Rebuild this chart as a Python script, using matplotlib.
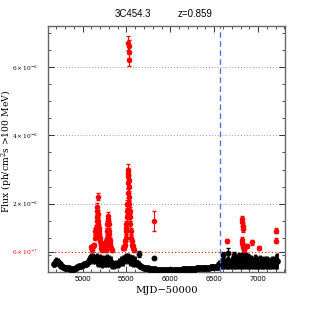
import matplotlib
matplotlib.use("Agg")
import matplotlib.pyplot as plt
import numpy as np

# ---------------- data (flux in units of 1e-7 ph/cm^2/s) ----------------
# quiescent / below-threshold band (black)
mjd_b = [4680, 4700, 4720, 4740, 4760, 4780, 4800, 4820, 4840, 4860, 4880, 4900,
         4920, 4940, 4960, 4980, 5000, 5020, 5040, 5060, 5080, 5100, 5120, 5140,
         5160, 5180, 5200, 5220, 5240, 5260, 5280, 5300, 5320, 5340, 5360, 5380,
         5400, 5420, 5440, 5460, 5480, 5500, 5520, 5540, 5560, 5580, 5600, 5620,
         5640, 5660, 5680, 5700, 5720, 5740, 5760, 5780, 5800, 5820, 5840, 5860,
         5880, 5900, 5920, 5940, 5960, 5980, 6000, 6020, 6040, 6060, 6080, 6100,
         6120, 6140, 6160, 6180, 6200, 6220, 6240, 6260, 6280, 6300, 6320, 6340,
         6360, 6380, 6400, 6420, 6440, 6460, 6480, 6500, 6520, 6540, 6560, 6580,
         6600, 6620, 6640, 6660, 6680, 6700, 6720, 6740, 6760, 6780, 6800, 6820,
         6840, 6860, 6880, 6900, 6920, 6940, 6960, 6980, 7000, 7020, 7040, 7060,
         7080, 7100, 7120, 7140, 7160, 7180, 7200, 7220]
flux_b = [2.25, 3.15, 3.0, 2.25, 1.8, 1.55, 1.3, 1.15, 1.05, 0.95, 0.9, 1.0,
          1.25, 1.45, 1.65, 1.85, 2.0, 2.2, 2.35, 3.0, 3.75, 4.25, 4.0, 3.9,
          3.75, 3.25, 3.5, 3.15, 3.0, 3.35, 3.4, 3.25, 2.9, 2.3, 2.1, 2.3,
          2.4, 2.75, 3.25, 3.5, 3.9, 4.25, 4.0, 3.65, 3.5, 3.35, 3.0, 2.5,
          2.15, 1.8, 1.5, 1.3, 1.15, 1.05, 0.9, 0.85, 0.8, 0.75, 0.7, 0.7,
          0.65, 0.65, 0.6, 0.6, 0.6, 0.55, 0.55, 0.6, 0.6, 0.65, 0.65, 0.7,
          0.7, 0.75, 0.8, 0.85, 0.85, 0.9, 0.95, 1.0, 1.0, 1.05, 1.1, 1.15,
          1.2, 1.2, 1.25, 1.3, 1.3, 1.35, 1.4, 1.45, 1.5, 1.6, 2.2, 2.5,
          2.6, 2.4, 2.6, 2.8, 2.6, 2.8, 2.7, 2.9, 2.8, 3.0, 3.2, 3.4,
          3.5, 3.4, 3.3, 3.2, 3.0, 2.9, 3.1, 3.0, 2.9, 3.0, 2.8, 2.7,
          2.9, 2.8, 2.7, 2.6, 2.8, 2.9, 3.2, 3.3]
err_b = [0.85, 1.25, 1.1, 0.85, 0.6, 0.55, 0.5, 0.45, 0.35, 0.35, 0.3, 0.3,
         0.35, 0.45, 0.45, 0.55, 0.6, 0.6, 0.75, 1.1, 1.35, 1.35, 1.6, 1.5,
         1.85, 1.85, 1.9, 1.95, 1.6, 1.75, 2.0, 1.85, 1.7, 1.3, 1.1, 1.1,
         1.2, 1.35, 1.35, 1.6, 1.5, 1.35, 1.6, 1.75, 1.6, 1.75, 1.6, 1.1,
         0.95, 0.8, 0.6, 0.5, 0.45, 0.35, 0.3, 0.25, 0.2, 0.2, 0.2, 0.2,
         0.2, 0.2, 0.2, 0.2, 0.2, 0.2, 0.2, 0.2, 0.2, 0.2, 0.2, 0.2,
         0.2, 0.25, 0.25, 0.25, 0.25, 0.3, 0.3, 0.3, 0.3, 0.35, 0.35, 0.4,
         0.4, 0.45, 0.45, 0.5, 0.5, 0.5, 0.55, 0.55, 0.6, 0.7, 1.2, 1.5,
         1.6, 1.6, 1.8, 1.8, 1.6, 1.8, 1.7, 1.9, 1.8, 2.0, 2.2, 2.4,
         2.5, 2.4, 2.3, 2.2, 2.0, 1.9, 2.1, 2.0, 1.9, 2.0, 1.8, 1.7,
         1.9, 1.8, 1.7, 1.6, 1.8, 1.9, 2.2, 2.3]

# isolated black points with error bars
mjd_bx = [5641, 5810, 6601, 6658, 6720, 6780]
flux_bx = [5.3, 4.2, 5.0, 5.5, 5.0, 4.8]
err_bx = [0.8, 0.3, 0.8, 1.5, 0.8, 0.8]

# above-threshold points (red)
mjd_r = [5094, 5105, 5110, 5120, 5130, 5140, 5145, 5150, 5155, 5160, 5163, 5166,
         5168, 5171, 5174, 5177, 5180, 5183, 5186, 5190, 5195, 5200, 5205, 5210,
         5215, 5220, 5225, 5230,
         5262, 5268, 5272, 5276, 5280, 5284, 5288, 5291, 5294, 5297, 5300, 5304,
         5308, 5312, 5318, 5324, 5330,
         5462, 5470, 5478, 5485, 5490, 5494, 5498, 5500, 5503, 5506, 5509, 5512,
         5515, 5518, 5520, 5522, 5525, 5528, 5531, 5534, 5537, 5540, 5544, 5548,
         5553, 5558, 5565, 5572, 5580, 5590,
         5523, 5524, 5525, 5524,
         5810,
         6640, 6815, 6820, 6825, 6830, 6812, 6818, 6824, 6830, 6836, 6842,
         6875, 6925, 7011, 7202, 7202]
flux_r = [7.3, 6.5, 7.0, 7.5, 8.0, 10.0, 12.0, 11.0, 13.0, 15.0, 18.0, 16.0,
          19.0, 22.0, 17.0, 15.0, 14.0, 12.0, 13.0, 11.0, 10.0, 9.0, 8.0, 8.5,
          7.0, 7.5, 6.5, 7.0,
          6.5, 8.0, 9.0, 10.0, 12.0, 14.0, 15.0, 16.5, 15.5, 14.0, 12.0, 11.0,
          9.5, 8.5, 8.0, 7.0, 6.5,
          7.1, 7.0, 8.0, 9.0, 10.0, 12.0, 14.0, 13.0, 16.0, 18.0, 20.0, 23.0,
          26.0, 28.0, 30.0, 29.0, 27.0, 25.0, 22.0, 20.0, 18.0, 16.0, 14.0, 12.0,
          10.0, 9.0, 8.0, 7.5, 7.0, 6.5,
          67.0, 66.0, 64.5, 62.0,
          15.0,
          9.2, 15.5, 14.5, 13.5, 12.5, 9.5, 8.5, 7.8, 7.2, 6.8, 6.5,
          7.7, 8.7, 7.0, 12.1, 9.2]
err_r = [0.6, 0.5, 0.5, 0.6, 0.6, 0.7, 0.8, 0.8, 0.9, 1.0, 1.2, 1.0,
         1.2, 1.0, 1.1, 1.0, 1.0, 0.9, 0.9, 0.8, 0.8, 0.7, 0.7, 0.7,
         0.6, 0.6, 0.6, 0.6,
         0.6, 0.7, 0.7, 0.8, 0.9, 1.0, 1.0, 1.1, 1.0, 1.0, 0.9, 0.8,
         0.8, 0.7, 0.7, 0.6, 0.6,
         0.8, 0.6, 0.7, 0.7, 0.8, 0.9, 1.0, 1.0, 1.1, 1.2, 1.2, 1.3,
         1.4, 1.4, 1.5, 1.5, 1.4, 1.3, 1.2, 1.2, 1.1, 1.0, 1.0, 0.9,
         0.8, 0.8, 0.7, 0.7, 0.6, 0.6,
         2.0, 2.0, 1.8, 1.8,
         3.0,
         0.6, 1.0, 1.0, 0.9, 0.9, 0.8, 0.7, 0.7, 0.6, 0.6, 0.6,
         0.6, 0.7, 0.6, 0.8, 0.7]

threshold = 6.0        # 6e-7
mjd_marker = 6568      # dashed vertical line
grid_levels = [20, 40, 60]

title_src = "3C454.3"
title_z = "z=0.859"
ytick_vals = [6, 20, 40, 60]
ytick_labels = [r"$6\times10^{-7}$", r"$2\times10^{-6}$", r"$4\times10^{-6}$", r"$6\times10^{-6}$"]

# ---------------- plot ----------------
plt.rcParams["mathtext.fontset"] = "dejavuserif"
fig = plt.figure(figsize=(3.11, 3.11), dpi=100)
ax = fig.add_axes([0.154, 0.1254, 0.762, 0.791])

ax.set_xlim(4605, 7305)
ax.set_ylim(0, 72)

for g in grid_levels:
    ax.axhline(g, color="#999999", ls=(0, (1, 2)), lw=0.7, zorder=1)
ax.axhline(threshold, color="red", ls=(0, (1, 2)), lw=0.8, zorder=1)

ax.errorbar(mjd_b, flux_b, yerr=err_b, fmt="o", color="black", ms=3.8,
            elinewidth=2.0, capsize=0, zorder=3)
ax.errorbar(mjd_bx, flux_bx, yerr=err_bx, fmt="o", color="black", ms=3.2,
            elinewidth=0.8, capsize=1.2, zorder=3)
ax.errorbar(mjd_r, flux_r, yerr=err_r, fmt="o", color="red", ms=3.0,
            elinewidth=0.8, capsize=1.3, zorder=4)

ax.axvline(mjd_marker, color="#5a6cff", ls=(0, (4, 2.5)), lw=1.0, zorder=5)

ax.set_yticks(ytick_vals)
ax.set_yticklabels(ytick_labels, fontsize=4.2, family="DejaVu Serif")
ax.get_yticklabels()[0].set_color("red")
ax.set_yticks(np.arange(0, 72, 5), minor=True)
ax.set_xticks([5000, 5500, 6000, 6500, 7000])
ax.set_xticklabels(["5000", "5500", "6000", "6500", "7000"], fontsize=5.4,
                   family="Liberation Sans")
ax.set_xticks(np.arange(4700, 7301, 100), minor=True)

ax.tick_params(which="both", direction="in", top=True, right=True, color="#333333")
ax.tick_params(which="major", length=4, width=0.7, pad=3)
ax.tick_params(axis="y", which="major", pad=7)
ax.tick_params(which="minor", length=2, width=0.6)
for s in ax.spines.values():
    s.set_color("#666666")
    s.set_linewidth(1.0)

ax.set_xlabel("MJD\u221250000", fontsize=7.2, family="DejaVu Serif", labelpad=2)
ax.set_ylabel("Flux (ph/cm$^2$s >100 MeV)", fontsize=6.7, family="DejaVu Serif")
ax.yaxis.set_label_coords(-0.142, 0.49)

fig.text(133 / 311, 1 - 14 / 311, title_src, ha="center", va="center", fontsize=7,
         family="Liberation Sans")
fig.text(195 / 311, 1 - 14 / 311, title_z, ha="center", va="center", fontsize=7,
         family="Liberation Sans")

fig.savefig("out.png", dpi=100)
